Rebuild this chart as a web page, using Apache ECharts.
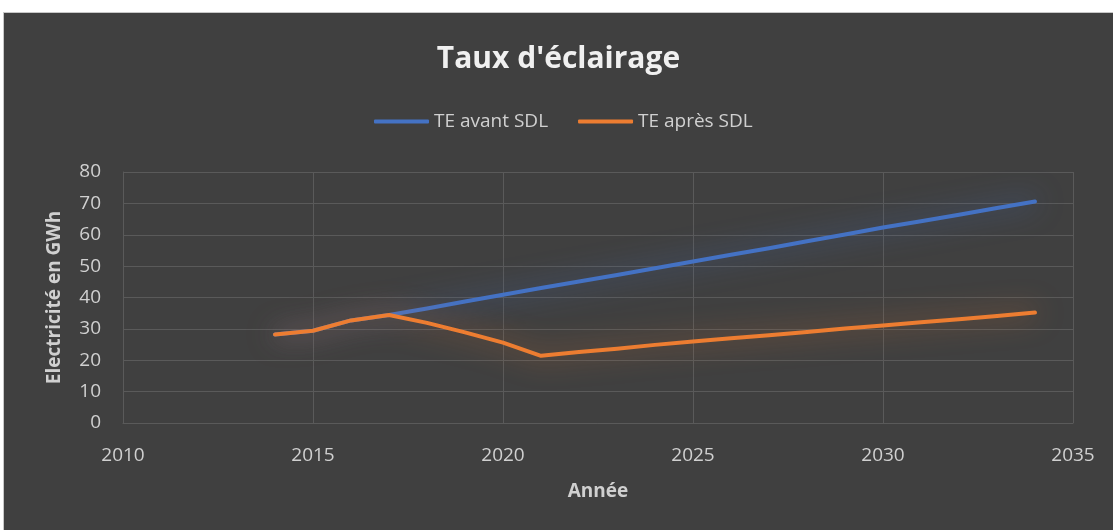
<!DOCTYPE html>
<html>
<head>
<meta charset="utf-8">
<script src="https://cdn.jsdelivr.net/npm/echarts@6/dist/echarts.min.js"></script>
<style>
  html, body { margin: 0; padding: 0; background: #fff; }
  #box {
    position: absolute; left: 3px; top: 12px; width: 1110px; height: 518px;
    box-sizing: border-box; border-top: 1px solid #c8c8c8; border-left: 1px solid #c8c8c8;
    background: #404040;
  }
  #chart { width: 1109px; height: 517px; }
</style>
</head>
<body>
<div id="box"><div id="chart"></div></div>
<script>
// données
var annees = [2014, 2015, 2016, 2017, 2018, 2019, 2020, 2021, 2022, 2023, 2024,
              2025, 2026, 2027, 2028, 2029, 2030, 2031, 2032, 2033, 2034];
var teAvant = [28.2, 29.4, 32.7, 34.4, 36.5, 38.7, 40.9, 43.0, 45.1, 47.2, 49.3,
               51.5, 53.6, 55.7, 57.9, 60.1, 62.3, 64.3, 66.4, 68.5, 70.6];
var teApres = [28.2, 29.4, 32.7, 34.4, 31.9, 28.9, 25.6, 21.4, 22.6, 23.7, 24.9,
               26.0, 27.0, 28.0, 29.0, 30.1, 31.1, 32.1, 33.1, 34.1, 35.2];
var nomsSeries = ['TE avant SDL', 'TE après SDL'];
var couleurs = ['#4472c4', '#ed7d31'];
var glow = ['rgba(68,114,196,0.8)', 'rgba(237,125,49,0.7)'];

function paires(xs, ys) {
	return xs.map(function(x, i) { return [x, ys[i]]; });
}

var font = '"Open Sans", "Noto Sans", sans-serif';
var gris = '#d0d0d0';
var grille = '#5a5a5a';

var myChart = echarts.init(document.getElementById('chart'));
var option = {
	animation: false,
	textStyle: { fontFamily: font },
	title: {
		text: "Taux d'éclairage",
		left: 'center',
		top: 26,
		textStyle: { color: '#f0f0f0', fontSize: 30, fontWeight: 'bold', fontFamily: font }
	},
	legend: {
		left: 365,
		top: 94,
		itemWidth: 55,
		itemHeight: 4,
		itemGap: 30,
		icon: 'roundRect',
		textStyle: { color: gris, fontSize: 19, fontFamily: font },
		data: nomsSeries
	},
	grid: { left: 119, top: 159, width: 950, height: 251, containLabel: false },
	xAxis: {
		type: 'value',
		min: 2010, max: 2035, interval: 5,
		name: 'Année',
		nameLocation: 'middle',
		nameGap: 59,
		nameTextStyle: { color: gris, fontSize: 19, fontWeight: 'bold', fontFamily: font },
		axisLine: { show: true, lineStyle: { color: grille } },
		axisTick: { show: false },
		axisLabel: { color: gris, fontSize: 19, margin: 23, fontFamily: font,
			formatter: function(v) { return String(v); } },
		splitLine: { show: true, lineStyle: { color: grille, width: 1 } }
	},
	yAxis: {
		type: 'value',
		min: 0, max: 80, interval: 10,
		name: 'Electricité en GWh',
		nameLocation: 'middle',
		nameRotate: 90,
		nameGap: 59,
		nameTextStyle: { color: gris, fontSize: 19, fontWeight: 'bold', fontFamily: font },
		axisLine: { show: true, lineStyle: { color: grille } },
		axisTick: { show: false },
		axisLabel: { color: gris, fontSize: 19, margin: 22, fontFamily: font },
		splitLine: { show: true, lineStyle: { color: grille, width: 1 } }
	},
	series: [{
		name: nomsSeries[0],
		type: 'line',
		data: paires(annees, teAvant),
		showSymbol: false,
		color: couleurs[0],
		lineStyle: { width: 4, cap: 'round', join: 'round', color: couleurs[0],
			shadowBlur: 28, shadowColor: glow[0] },
		z: 2
	}, {
		name: nomsSeries[1],
		type: 'line',
		data: paires(annees, teApres),
		showSymbol: false,
		color: couleurs[1],
		lineStyle: { width: 4, cap: 'round', join: 'round', color: couleurs[1],
			shadowBlur: 28, shadowColor: glow[1] },
		z: 3
	}]
};
myChart.setOption(option);
</script>
</body>
</html>
